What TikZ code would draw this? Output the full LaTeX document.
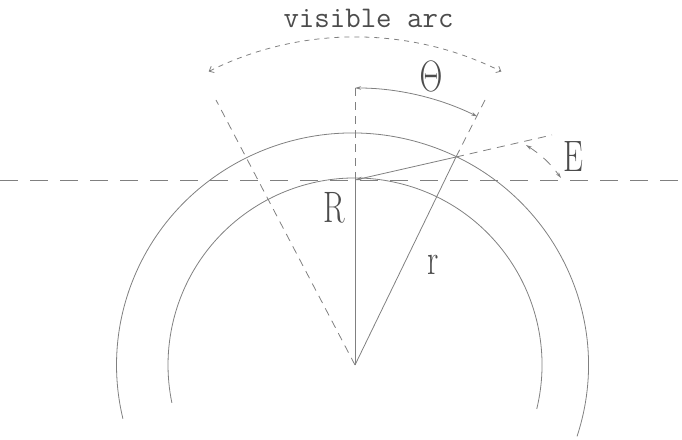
\RequirePackage{fix-cm}
\documentclass[tikz,border=0pt]{standalone}
\usetikzlibrary{arrows.meta,calc}
\begin{document}
\begin{tikzpicture}[x=1pt,y=1pt,
  ln/.style={draw=black!50, line width=0.8pt},
  dsh/.style={ln, dash pattern=on 8pt off 6pt},
  longdsh/.style={ln, dash pattern=on 18pt off 12pt},
  shortdsh/.style={ln, dash pattern=on 5pt off 5pt},
  barb/.style={{Straight Barb[length=4pt,width=7pt]}-{Straight Barb[length=4pt,width=7pt]}},
  lab/.style={text=black!70, inner sep=0pt, anchor=base, font=\fontsize{44}{44}\selectfont}
]
\useasboundingbox (0,0) rectangle (682,439);
% key points
\coordinate (O) at (355,74);
\coordinate (R) at (355,259);
\coordinate (P) at (456,282);
\coordinate (Ttop) at (355,351);
\coordinate (Lend) at (216,339);
\coordinate (Rend) at (485,339);
\coordinate (Ext) at (552,304);
\coordinate (HL) at (0,259);
\coordinate (HR) at (682,259);
% circles
\draw[ln] ($(O)+(-13.6:187)$) arc[start angle=-13.6, end angle=191.7, radius=187];
\draw[ln] ($(352.5,74)+({236*cos(-17.9)},{232*sin(-17.9)})$) arc[start angle=-17.9, end angle=193.4, x radius=236, y radius=232];
% horizontal dashed line
\draw[longdsh] (HL) -- (HR);
% vertical
\draw[ln] (O) -- (R);
\draw[dsh] (R) -- (Ttop);
% slanted lines
\draw[dsh] (O) -- (Lend);
\draw[ln] (O) -- (P);
\draw[dsh] (P) -- (Rend);
% R to P and extension
\draw[ln, -{Stealth[length=7pt,width=3.5pt]}] (P) -- (R);
\draw[dsh] (P) -- (Ext);
% visible arc
\draw[shortdsh, barb] ($(O)+(116.5:328)$) arc[start angle=116.5, end angle=63.5, radius=328];
% Theta arc
\draw[ln, {Stealth[length=6pt,width=3.5pt]}-{Stealth[length=6pt,width=3.5pt]}] ($(O)+(90:277)$) arc[start angle=90, end angle=63.8, radius=277];
% E arc
\coordinate (E1) at (526,294);
\coordinate (E2) at (561,261);
\draw[ln, dash pattern=on 10pt off 8pt, {Stealth[length=6pt,width=3.5pt]}-{Stealth[length=6pt,width=3.5pt]}] (E1) to[bend left=10] (E2);
% labels
\node[text=black!70, inner sep=0pt, anchor=base, font=\ttfamily\fontsize{30}{30}\selectfont] (vis) at (368.5,411) {visible arc};
\node[lab] (th) at (431,347) {\scalebox{0.72}[1]{$\Theta$}};
\node[lab] (lR) at (334.5,216) {\scalebox{0.72}[1]{R}};
\node[lab] (lr) at (433.5,164) {\scalebox{0.72}[1]{r}};
\node[lab] (lE) at (573.5,267) {\scalebox{0.72}[1]{E}};
\end{tikzpicture}
\end{document}
